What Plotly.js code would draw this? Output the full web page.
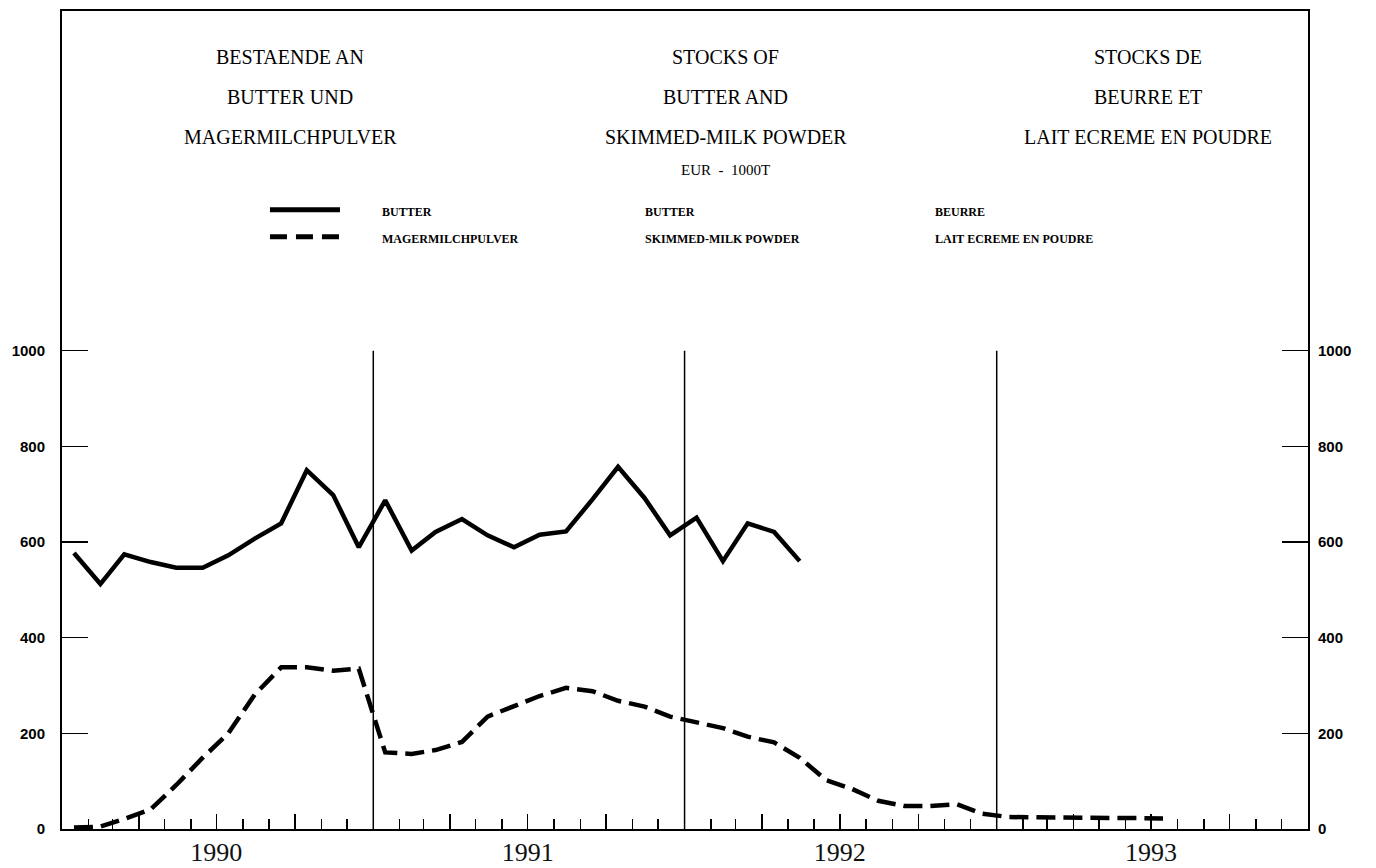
<!DOCTYPE html>
<html>
<head>
<meta charset="utf-8">
<script src="https://cdn.plot.ly/plotly-3.0.1.min.js"></script>
<style>html,body{margin:0;padding:0;background:#fff;}#chart{width:1376px;height:868px;}</style>
</head>
<body>
<div id="chart"></div>
<script>
// ---- data (EUR, 1000 t, monthly stocks) ----
const years = ['1990', '1991', '1992', '1993'];
const butterStart = '1990-01';
const butter = [577, 512, 574, 558, 546, 546, 572, 607, 639, 750, 698, 589,
                687, 582, 621, 648, 614, 589, 615, 622, 689, 757, 692, 614,
                651, 560, 639, 621, 560];
const powderStart = '1990-01';
const powder = [3, 5, 21, 41, 92, 149, 200, 281, 338, 338, 331, 335,
                160, 157, 165, 182, 235, 256, 278, 295, 288, 268, 256, 235,
                224, 211, 193, 181, 149, 102, 84, 59, 48, 48, 52, 32,
                25, 24, 23, 23, 23, 23, 22];
const yTicks = [0, 200, 400, 600, 800, 1000];
const titleDE = ['BESTAENDE AN', 'BUTTER UND', 'MAGERMILCHPULVER'];
const titleEN = ['STOCKS OF', 'BUTTER AND', 'SKIMMED-MILK POWDER'];
const titleFR = ['STOCKS DE', 'BEURRE ET', 'LAIT ECREME EN POUDRE'];
const unitText = 'EUR  -  1000T';
const legendDE = ['BUTTER', 'MAGERMILCHPULVER'];
const legendEN = ['BUTTER', 'SKIMMED-MILK POWDER'];
const legendFR = ['BEURRE', 'LAIT ECREME EN POUDRE'];

// monthly dates (mid-month) for a series
function monthDates(start, n) {
  const [y0, m0] = start.split('-').map(Number);
  const out = [];
  for (let i = 0; i < n; i++) {
    const t = (m0 - 1) + i;
    const y = y0 + Math.floor(t / 12);
    const m = (t % 12) + 1;
    out.push(y + '-' + String(m).padStart(2, '0') + '-15');
  }
  return out;
}

// quarter ticks, year label on the July tick
const qTickVals = [], qTickText = [];
years.forEach(y => {
  ['01', '04', '07', '10'].forEach(m => {
    qTickVals.push(y + '-' + m + '-01');
    qTickText.push(m === '07' ? y : '');
  });
});

const yTop = 1710;
const serif = 'Liberation Serif, Times New Roman, serif';
const sans = 'Liberation Sans, Arial, sans-serif';

const traces = [
  {x: monthDates(butterStart, butter.length), y: butter, type: 'scatter', mode: 'lines',
   line: {color: '#000', width: 4.5}, name: 'BUTTER', hoverinfo: 'x+y'},
  {x: monthDates(powderStart, powder.length), y: powder, type: 'scatter', mode: 'lines',
   line: {color: '#000', width: 4.5, dash: '19px,8px'}, name: 'MAGERMILCHPULVER', hoverinfo: 'x+y'},
  // empty helper so that the right-hand value axis is drawn
  {x: [years[0] + '-01-15'], y: [null], yaxis: 'y2', type: 'scatter', mode: 'lines',
   showlegend: false, hoverinfo: 'skip'}
];

const annotations = [];
function colTitle(lines, xp) {
  const ys = [0.9438, 0.8949, 0.8460];
  lines.forEach((t, i) => annotations.push({
    text: t, xref: 'paper', yref: 'paper', x: xp, y: ys[i], xanchor: 'center', yanchor: 'middle',
    showarrow: false, font: {family: serif, size: 20, color: '#000'}
  }));
}
colTitle(titleDE, 0.183);
colTitle(titleEN, 0.5329);
colTitle(titleFR, 0.8716);
annotations.push({text: unitText, xref: 'paper', yref: 'paper', x: 0.5329, y: 0.8057,
  xanchor: 'center', yanchor: 'middle', showarrow: false, font: {family: serif, size: 15, color: '#000'}});
function colLegend(lines, xp) {
  const ys = [0.7544, 0.7214];
  lines.forEach((t, i) => annotations.push({
    text: t, xref: 'paper', yref: 'paper', x: xp, y: ys[i], xanchor: 'left', yanchor: 'middle',
    showarrow: false, font: {family: serif, size: 12, color: '#000', weight: 'bold'}
  }));
}
colLegend(legendDE, 0.2552);
colLegend(legendEN, 0.4663);
colLegend(legendFR, 0.6990);

const shapes = [];
// year separators
years.slice(1).forEach(y => shapes.push({
  type: 'line', xref: 'x', yref: 'y', x0: y + '-01-01', x1: y + '-01-01', y0: 0, y1: 1000,
  line: {color: '#000', width: 1.5}
}));
// legend samples
shapes.push({type: 'line', xref: 'paper', yref: 'paper', x0: 0.1669, x1: 0.2231, y0: 0.7569, y1: 0.7569,
  line: {color: '#000', width: 5}});
shapes.push({type: 'line', xref: 'paper', yref: 'paper', x0: 0.1669, x1: 0.2231, y0: 0.7239, y1: 0.7239,
  line: {color: '#000', width: 5, dash: '17px,9px'}});

const yCommon = {
  range: [0, yTop], tickmode: 'array', tickvals: yTicks, ticktext: yTicks.map(String),
  ticks: 'inside', ticklen: 26, tickwidth: 1.5, tickcolor: '#000',
  showline: true, linewidth: 2, linecolor: '#000', showgrid: false, zeroline: false,
  tickfont: {family: sans, size: 15, color: '#000', weight: 'bold'}, fixedrange: true
};

const layout = {
  width: 1376, height: 868,
  margin: {l: 62, r: 68, t: 11, b: 39},
  paper_bgcolor: '#fff', plot_bgcolor: '#fff',
  showlegend: false,
  xaxis: {
    type: 'date', range: ['1990-01-01', '1994-01-01'],
    tickmode: 'array', tickvals: qTickVals, ticktext: qTickText,
    ticks: 'inside', ticklen: 15, tickwidth: 1.5, tickcolor: '#000',
    minor: {dtick: 'M1', tick0: '1990-01-01', ticks: 'inside', ticklen: 10, tickwidth: 1.5, tickcolor: '#000', showgrid: false},
    showline: true, linewidth: 2, linecolor: '#000', mirror: true,
    showgrid: false, zeroline: false,
    tickfont: {family: serif, size: 26, color: '#111'}, ticklabelstandoff: -1, fixedrange: true
  },
  yaxis: Object.assign({}, yCommon, {side: 'left', ticklabelstandoff: 12}),
  yaxis2: Object.assign({}, yCommon, {side: 'right', overlaying: 'y', anchor: 'x', ticklabelstandoff: 5}),
  annotations: annotations,
  shapes: shapes
};

Plotly.newPlot('chart', traces, layout, {displayModeBar: false, staticPlot: true});
</script>
</body>
</html>
